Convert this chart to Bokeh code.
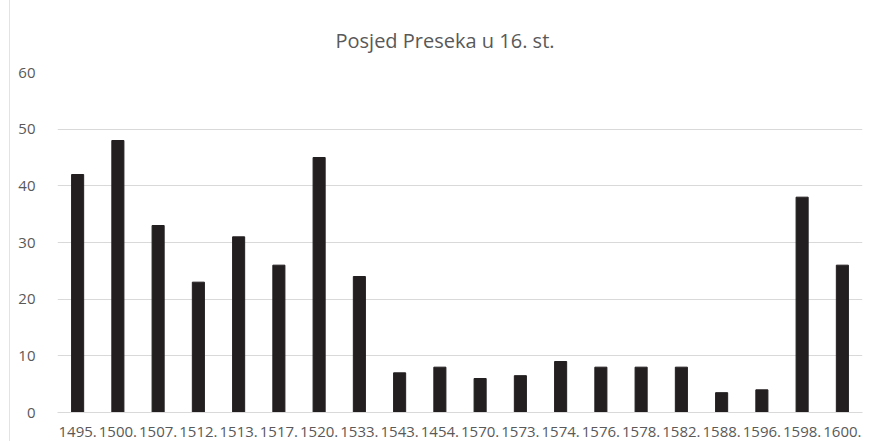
from bokeh.plotting import figure
from bokeh.models import FactorRange, Range1d, FixedTicker
from bokeh.embed import file_html
from bokeh.resources import INLINE

title_text = "Posjed Preseka u 16. st."
years = ["1495.", "1500.", "1507.", "1512.", "1513.", "1517.", "1520.", "1533.",
         "1543.", "1454.", "1570.", "1573.", "1574.", "1576.", "1578.", "1582.",
         "1588.", "1596.", "1598.", "1600."]
values = [42, 48, 33, 23, 31, 26, 45, 24, 7, 8, 6, 6.5, 9, 8, 8, 8, 3.5, 4, 38, 26]
y_ticks = [0, 10, 20, 30, 40, 50, 60]

p = figure(
    x_range=FactorRange(factors=years, range_padding=0),
    y_range=Range1d(0, 60),
    width=867, height=441,
    output_backend="svg", toolbar_location=None,
    min_border_left=47, min_border_right=15, min_border_top=72, min_border_bottom=29,
    title=title_text,
)
p.margin = (0, 0, 0, 9)
p.styles = {"border-left": "1px solid #e3e3e3"}

p.vbar(x=years, top=values, width=0.3, color="#231f20")

p.title.align = "left"
p.title.vertical_align = "top"
p.title.text_font = "Open Sans"
p.title.text_font_size = "20px"
p.title.text_font_style = "normal"
p.title.text_color = "#595959"
p.title.standoff = 34
p.title.offset = 278

p.outline_line_color = None
p.background_fill_color = "white"
p.border_fill_color = "white"

p.xgrid.grid_line_color = None
p.ygrid.grid_line_color = "#d9d9d9"
p.ygrid.grid_line_width = 1

p.yaxis.ticker = FixedTicker(ticks=y_ticks)
p.yaxis.axis_line_color = None
p.yaxis.major_tick_line_color = None
p.yaxis.minor_tick_line_color = None
p.yaxis.major_label_text_font = "Open Sans"
p.yaxis.major_label_text_font_size = "15px"
p.yaxis.major_label_text_color = "#595959"
p.yaxis.major_label_standoff = 16

p.xaxis.axis_line_color = "#d9d9d9"
p.xaxis.major_tick_line_color = None
p.xaxis.minor_tick_line_color = None
p.xaxis.major_label_text_font = "Open Sans"
p.xaxis.major_label_text_font_size = "15px"
p.xaxis.major_label_text_color = "#595959"
p.xaxis.major_label_standoff = 8

open("out.html", "w").write(file_html(p, INLINE))
